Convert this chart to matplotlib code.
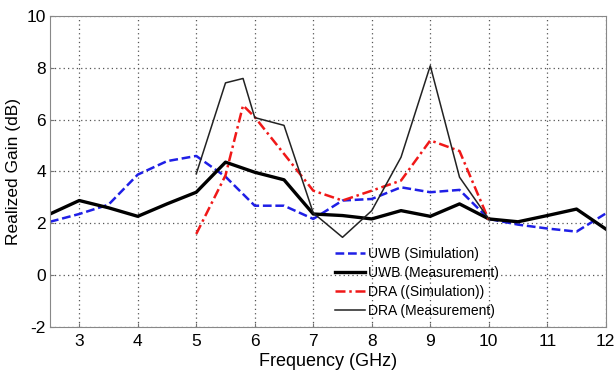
import numpy as np
import matplotlib
matplotlib.use("Agg")
import matplotlib.pyplot as plt

plt.rcParams["font.family"] = ["Liberation Sans", "DejaVu Sans"]
plt.rcParams["axes.unicode_minus"] = False

# UWB antenna (simulation / measurement)
freq_uwb = [2.5, 3, 3.5, 4, 4.5, 5, 5.5, 6, 6.5, 7, 7.5, 8, 8.5, 9, 9.5, 10, 10.5, 11, 11.5, 12]
uwb_sim = [2.06, 2.36, 2.72, 3.88, 4.4, 4.6, 3.8, 2.68, 2.68, 2.17, 2.88, 2.94, 3.39, 3.2, 3.29,
           2.17, 1.95, 1.8, 1.68, 2.38]
uwb_meas = [2.36, 2.88, 2.6, 2.27, 2.75, 3.2, 4.36, 3.97, 3.68, 2.36, 2.3, 2.17, 2.49, 2.27, 2.75,
            2.17, 2.06, 2.3, 2.55, 1.78]

# DRA (simulation / measurement)
freq_dra = [5, 5.5, 5.8, 6, 6.5, 7, 7.5, 8, 8.5, 9, 9.5, 10]
dra_sim = [1.59, 3.85, 6.55, 6.1, 4.68, 3.26, 2.88, 3.26, 3.65, 5.2, 4.79, 2.13]
dra_meas = [3.91, 7.42, 7.59, 6.08, 5.78, 2.4, 1.46, 2.49, 4.55, 8.08, 3.78, 2.17]

fig = plt.figure(figsize=(6.15, 3.74), dpi=100)
ax = fig.add_axes([0.0813, 0.1257, 0.9037, 0.8315])

ax.plot(freq_uwb, uwb_sim, color="#1f1fe6", ls=(0, (3.5, 1.5)), lw=1.8, label="UWB (Simulation)")
ax.plot(freq_uwb, uwb_meas, color="black", lw=2.4, label="UWB (Measurement)")
ax.plot(freq_dra, dra_sim, color="#f01818", ls=(0, (4, 1.5, 1, 1.5)), lw=1.8, label="DRA ((Simulation))")
ax.plot(freq_dra, dra_meas, color="#222222", lw=1.1, label="DRA (Measurement)")

ax.set_xlim(2.5, 12)
ax.set_ylim(-2, 10)
ax.set_xticks(range(3, 13))
ax.set_yticks(range(-2, 11, 2))
ax.grid(True, ls=(0, (1, 2.5)), color="#555555", lw=0.9)
ax.tick_params(labelsize=12.5, direction="in", length=3, color="#777777", pad=3)
ax.tick_params(axis="x", pad=5)
for s in ax.spines.values():
    s.set_color("#888888")
    s.set_linewidth(0.8)

ax.set_xlabel("Frequency (GHz)", fontsize=13, labelpad=3)
ax.set_ylabel("Realized Gain (dB)", fontsize=12.5, labelpad=4)

leg = ax.legend(loc="upper left", bbox_to_anchor=(0.5, 0.28), frameon=False,
                fontsize=10, borderpad=0, handlelength=2.15, handletextpad=0.22,
                labelspacing=0.36)

fig.savefig("out.png", dpi=100)
